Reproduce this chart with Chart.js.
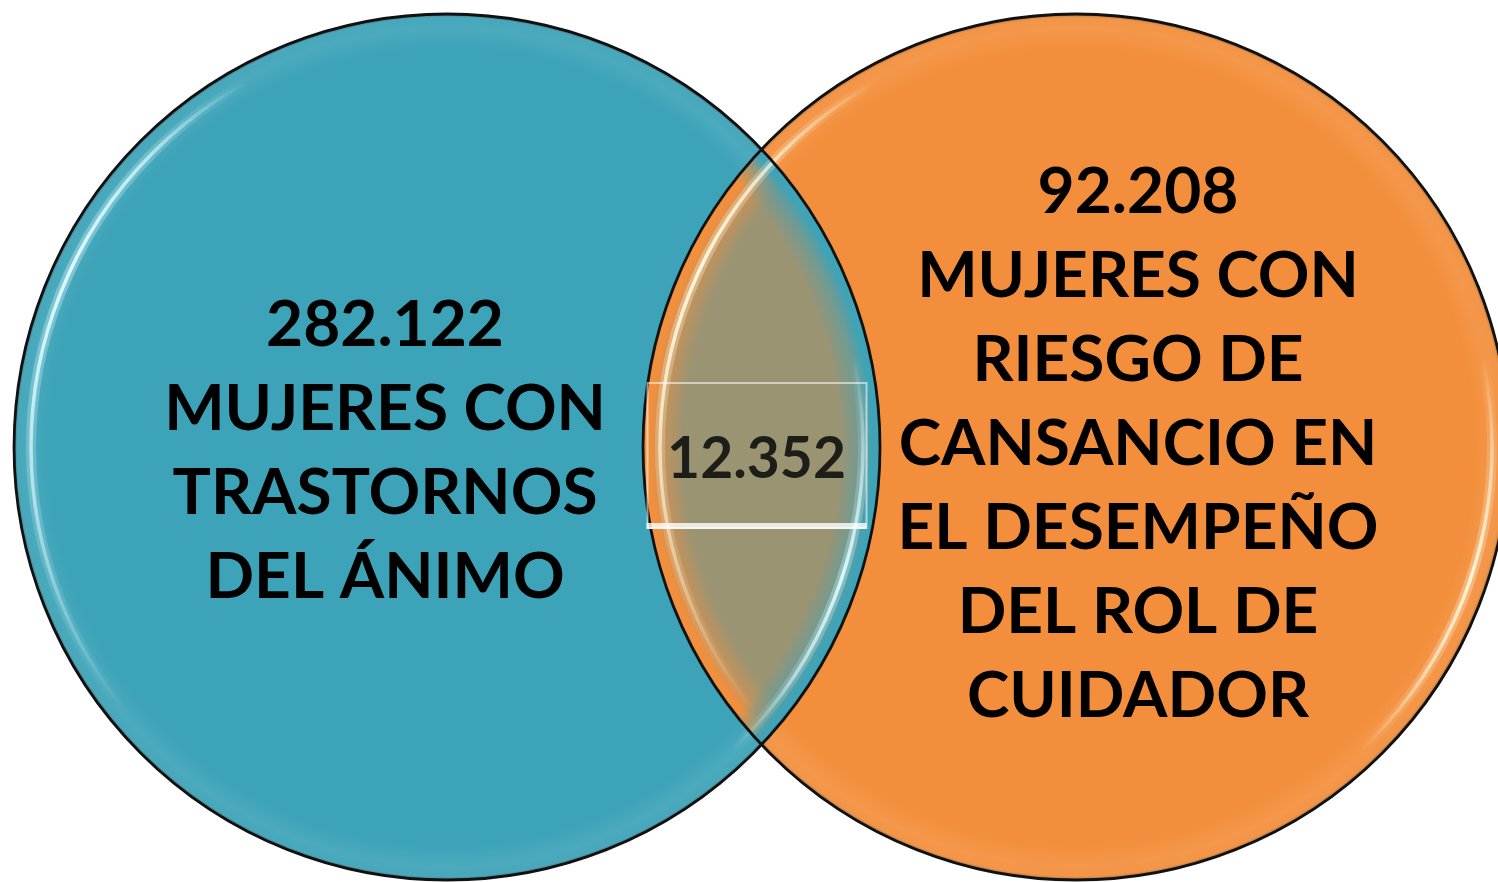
<!DOCTYPE html>
<html lang="es">
<head>
<meta charset="utf-8">
<title>Diagrama de Venn</title>
<script src="https://cdn.jsdelivr.net/npm/chart.js@4.4.1/dist/chart.umd.min.js"></script>
<style>
  html, body { margin: 0; padding: 0; background: #fff; overflow: hidden; }
  #venn { display: block; }
</style>
</head>
<body>
<canvas id="venn" width="1498" height="882"></canvas>
<script>
// Datos del diagrama
const setIds = [0, 1];
const setCounts = [282122, 92208];
const setLines = [
  ["MUJERES CON", "TRASTORNOS", "DEL ÁNIMO"],
  ["MUJERES CON", "RIESGO DE", "CANSANCIO EN", "EL DESEMPEÑO", "DEL ROL DE", "CUIDADOR"]
];
const overlapCount = 12352;

// Estilos
const setColors = ["#3DA3B8", "#F38F3C"];
const overlapColor = "#9B9473";
const highlightColors = ["220,250,255", "255,246,220"];
const RADIUS = 433;
const FONT = "Lato, 'Open Sans', sans-serif";

// 282122 -> "282.122"
function fmt(n) {
  return String(n).replace(/\B(?=(\d{3})+(?!\d))/g, ".");
}

function rgba(hex, a) {
  const v = parseInt(hex.slice(1), 16);
  return `rgba(${(v >> 16) & 255},${(v >> 8) & 255},${v & 255},${a})`;
}

function circlePath(ctx, x, y, r) {
  ctx.beginPath();
  ctx.arc(x, y, r, 0, Math.PI * 2);
}

// borde interior un poco más claro y oscuro justo en el contorno
function drawRim(ctx, p, r) {
  ctx.save();
  circlePath(ctx, p.x, p.y, r);
  ctx.clip();
  const g = ctx.createRadialGradient(p.x, p.y, r - 34, p.x, p.y, r);
  g.addColorStop(0, "rgba(255,255,255,0)");
  g.addColorStop(0.6, "rgba(255,255,255,0.08)");
  g.addColorStop(0.85, "rgba(255,255,255,0.05)");
  g.addColorStop(1, "rgba(0,0,0,0.35)");
  ctx.fillStyle = g;
  ctx.fillRect(p.x - r, p.y - r, r * 2, r * 2);
  ctx.restore();
}

// franja de color del círculo dentro de la intersección
function drawBand(ctx, p, r, color) {
  const g = ctx.createRadialGradient(p.x, p.y, r - 40, p.x, p.y, r);
  g.addColorStop(0, rgba(color, 0));
  g.addColorStop(0.55, rgba(color, 0.5));
  g.addColorStop(0.8, rgba(color, 0.95));
  g.addColorStop(1, rgba(color, 1));
  ctx.fillStyle = g;
  ctx.fillRect(p.x - r, p.y - r, r * 2, r * 2);
}

// brillo especular en el lado izquierdo (arriba) y derecho (abajo)
function drawHighlight(ctx, p, r, rgb) {
  const g = ctx.createConicGradient(0, p.x, p.y);
  const stops = [
    [0, 0.45], [0.05, 0.95], [0.09, 0.6], [0.13, 0],
    [0.39, 0], [0.48, 0.6], [0.57, 1], [0.62, 0.7], [0.67, 0],
    [0.965, 0], [1, 0.45]
  ];
  stops.forEach(s => g.addColorStop(s[0], `rgba(${rgb},${s[1]})`));
  ctx.save();
  ctx.strokeStyle = g;
  ctx.globalAlpha = 0.35;
  ctx.lineWidth = 10;
  ctx.beginPath(); ctx.arc(p.x, p.y, r - 17, 0, Math.PI * 2); ctx.stroke();
  ctx.globalAlpha = 1;
  ctx.lineWidth = 3.5;
  ctx.beginPath(); ctx.arc(p.x, p.y, r - 17, 0, Math.PI * 2); ctx.stroke();
  ctx.restore();
}

const vennPlugin = {
  id: "venn",
  afterDatasetsDraw(chart) {
    const ctx = chart.ctx;
    const pts = chart.getDatasetMeta(0).data;
    const a = pts[0], b = pts[1];
    const r = RADIUS;

    pts.forEach(p => drawRim(ctx, p, r));

    // intersección
    ctx.save();
    circlePath(ctx, a.x, a.y, r); ctx.clip();
    circlePath(ctx, b.x, b.y, r); ctx.clip();
    ctx.fillStyle = overlapColor;
    ctx.fillRect(0, 0, chart.width, chart.height);
    drawBand(ctx, b, r, setColors[1]);
    drawBand(ctx, a, r, setColors[0]);
    ctx.restore();

    pts.forEach((p, i) => drawHighlight(ctx, p, r, highlightColors[i]));

    // contornos
    ctx.save();
    ctx.strokeStyle = "#111";
    ctx.lineWidth = 2.8;
    pts.forEach(p => { circlePath(ctx, p.x, p.y, r); ctx.stroke(); });
    ctx.restore();

    // textos de cada conjunto
    const lh = 84;
    ctx.save();
    ctx.fillStyle = "#000";
    ctx.textAlign = "center";
    ctx.textBaseline = "alphabetic";
    ctx.font = `bold 64px ${FONT}`;
    pts.forEach((p, i) => {
      const lines = [fmt(setCounts[i])].concat(setLines[i]);
      const dir = i === 0 ? -1 : 1;
      const tx = p.x + dir * 62;
      const y0 = p.y - (lines.length - 1) * lh / 2 + 23 - (i === 1 ? 5 : -2);
      lines.forEach((t, k) => ctx.fillText(t, tx, y0 + k * lh));
    });

    // cuadro y valor de la intersección
    const mx = (a.x + r + b.x - r) / 2 - 5;
    ctx.strokeStyle = "rgba(255,255,255,0.55)";
    ctx.lineWidth = 2;
    ctx.strokeRect(mx - 109, a.y - 64, 219, 145);
    ctx.strokeStyle = "rgba(255,255,255,0.8)";
    ctx.lineWidth = 6;
    ctx.beginPath();
    ctx.moveTo(mx - 110, a.y + 79); ctx.lineTo(mx + 110, a.y + 79);
    ctx.stroke();
    ctx.fillStyle = "#1E1E19";
    ctx.font = `bold 57px ${FONT}`;
    ctx.fillText(fmt(overlapCount), mx, a.y + 31);
    ctx.restore();
  }
};

new Chart(document.getElementById("venn"), {
  type: "scatter",
  data: {
    datasets: [{
      data: setIds.map(id => ({ x: id, y: 0 })),
      backgroundColor: setColors,
      borderColor: "#141414",
      borderWidth: 0,
      pointRadius: RADIUS,
      pointHoverRadius: RADIUS,
      clip: false
    }]
  },
  options: {
    responsive: false,
    animation: false,
    events: [],
    layout: { padding: 0, autoPadding: false },
    plugins: { legend: { display: false }, tooltip: { enabled: false } },
    scales: {
      // centros en x = 447 px y 1076 px, y = 447 px
      x: { type: "linear", display: false, min: -0.7107, max: 1.6709 },
      y: { type: "linear", display: false, min: -1, max: 1.0276 }
    }
  },
  plugins: [vennPlugin]
});
</script>
</body>
</html>
